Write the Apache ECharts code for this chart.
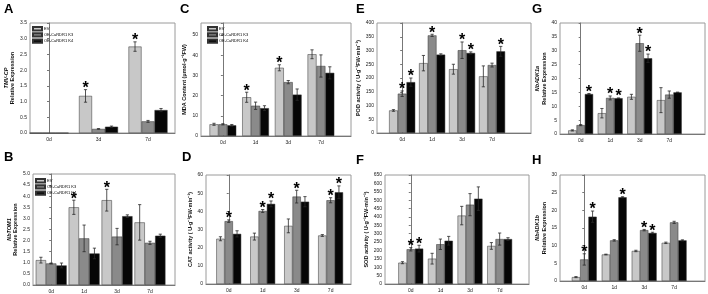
<!DOCTYPE html>
<html>
<head>
<meta charset="utf-8">
<script src="https://cdn.jsdelivr.net/npm/echarts@6/dist/echarts.min.js"></script>
<style>html,body{margin:0;padding:0;background:#fff}#c{width:708px;height:294px}</style>
</head>
<body>
<div id="c"></div>
<script>
// ---------- data ----------
const SERIES_NAMES = ['EV', 'OE-CaRDR1 K3', 'OE-CaRDR1 K4'];
const CATS_A = ['0d', '3d', '7d'];
const CATS = ['0d', '1d', '3d', '7d'];

// rows: EV, K3, K4
const A_mean = [[0, 1.18, 2.75], [0, 0.13, 0.37], [0, 0.20, 0.73]];
const A_sd   = [[0, 0.20, 0.15], [0, 0.01, 0.03], [0, 0.02, 0.05]];
const A_sig  = [[0, 1, 1], [0, 0, 0], [0, 0, 0]];

const B_mean = [[1.12, 3.50, 3.82, 2.82], [0.97, 2.10, 2.18, 1.90], [0.88, 1.42, 3.10, 2.22]];
const B_sd   = [[0.13, 0.32, 0.49, 0.80], [0.02, 0.60, 0.37, 0.07], [0.11, 0.24, 0.06, 0.07]];
const B_sig  = [[0, 1, 1, 0], [0, 0, 0, 0], [0, 0, 0, 0]];

const C_mean = [[5.8, 19.2, 33.8, 40.5], [5.8, 15.0, 26.7, 34.7], [5.3, 13.8, 20.5, 31.3]];
const C_sd   = [[0.5, 2.5, 1.5, 2.2], [0.3, 1.8, 0.8, 5.5], [0.4, 1.2, 2.8, 3.0]];
const C_sig  = [[0, 1, 1, 0], [0, 0, 0, 0], [0, 0, 0, 0]];

const D_mean = [[24.9, 26.1, 32.0, 26.7], [34.6, 40.2, 48.1, 46.1], [27.6, 44.1, 45.3, 50.5]];
const D_sd   = [[1.1, 1.9, 3.8, 0.5], [0.7, 0.8, 3.5, 1.4], [1.7, 1.6, 2.8, 3.5]];
const D_sig  = [[0, 0, 0, 0], [1, 1, 1, 1], [0, 1, 0, 1]];

const E_mean = [[82, 254, 232, 206], [143, 355, 301, 247], [185, 285, 291, 297]];
const E_sd   = [[3, 28, 18, 38], [10, 4, 30, 7], [15, 3, 4, 18]];
const E_sig  = [[0, 0, 0, 0], [1, 1, 1, 0], [1, 0, 1, 1]];

const F_mean = [[127, 151, 408, 227], [207, 237, 473, 268], [211, 258, 509, 268]];
const F_sd   = [[6, 32, 55, 20], [10, 31, 66, 36], [20, 26, 70, 8]];
const F_sig  = [[0, 0, 0, 0], [1, 0, 0, 0], [1, 0, 0, 0]];

const G_mean = [[1.3, 7.5, 13.4, 12.2], [3.2, 13.0, 32.7, 14.2], [14.4, 12.9, 27.3, 15.0]];
const G_sd   = [[0.2, 1.7, 0.9, 4.5], [0.2, 0.7, 2.9, 1.3], [0.2, 0.1, 1.5, 0.1]];
const G_sig  = [[0, 0, 0, 0], [0, 1, 1, 0], [1, 1, 1, 0]];

const H_mean = [[1.1, 7.5, 8.5, 10.8], [6.1, 11.5, 14.4, 16.6], [18.2, 23.7, 13.6, 11.5]];
const H_sd   = [[0.15, 0.1, 0.2, 0.2], [1.6, 0.2, 0.2, 0.3], [1.6, 0.15, 0.2, 0.15]];
const H_sig  = [[0, 0, 0, 0], [1, 0, 1, 0], [1, 1, 1, 0]];

// ---------- layout / style ----------
const FONT = 'Liberation Sans, Arial, sans-serif';
const COLORS = ['#c8c8c8', '#8a8a8a', '#060606'];
const UNIT = ' ( U·g\u207B\u00B9FW·min\u207B\u00B9)';

const panels = [
  {L: 'A', cats: CATS_A, mean: A_mean, sd: A_sd, sig: A_sig, name: '{i|TMV-CP}\nRelative Expression', max: 3.5, step: 0.5, dec: 1,
   grid: {left: 30, top: 23, width: 145, height: 110}, xr: [-0.384, 2.545], bw: 13, gap: 10, legend: {left: 32, top: 26}, letter: {left: 4, top: 3}},
  {L: 'B', cats: CATS, mean: B_mean, sd: B_sd, sig: B_sig, name: '{i|NbTOM1}\nRelative Expression', max: 5, step: 0.5, dec: 1,
   grid: {left: 33, top: 174, width: 142, height: 111}, xr: [-0.553, 3.76], bw: 10.3, gap: 10, legend: {left: 35, top: 178}, letter: {left: 4, top: 151}},
  {L: 'C', cats: CATS, mean: C_mean, sd: C_sd, sig: C_sig, name: 'MDA Content (μmol·g\u207B\u00B9FW)', max: 56, step: 10, dec: 0,
   grid: {left: 201, top: 23, width: 150, height: 113}, xr: [-0.67, 3.92], bw: 8.9, gap: 13, legend: {left: 207, top: 26}, letter: {left: 180, top: 3}},
  {L: 'D', cats: CATS, mean: D_mean, sd: D_sd, sig: D_sig, name: 'CAT activity' + UNIT, max: 60, step: 10, dec: 0,
   grid: {left: 206, top: 175, width: 145, height: 109}, xr: [-0.67, 3.6], bw: 8.3, gap: 12, letter: {left: 182, top: 151}},
  {L: 'E', cats: CATS, mean: E_mean, sd: E_sd, sig: E_sig, name: 'POD activity' + UNIT, max: 400, step: 50, dec: 0,
   grid: {left: 377, top: 23, width: 154, height: 110}, xr: [-0.84, 4.3], bw: 8.7, gap: 13, letter: {left: 356, top: 3}},
  {L: 'F', cats: CATS, mean: F_mean, sd: F_sd, sig: F_sig, name: 'SOD activity' + UNIT, max: 650, step: 50, dec: 0,
   grid: {left: 385, top: 175, width: 144, height: 109}, xr: [-0.87, 3.99], bw: 8.3, gap: 14, letter: {left: 356, top: 154}},
  {L: 'G', cats: CATS, mean: G_mean, sd: G_sd, sig: G_sig, name: '{i|NbADK1a}\nRelative Expression', max: 40, step: 5, dec: 0,
   grid: {left: 560, top: 23, width: 145, height: 111}, xr: [-0.7, 4.21], bw: 8.3, gap: 9, letter: {left: 532, top: 3}},
  {L: 'H', cats: CATS, mean: H_mean, sd: H_sd, sig: H_sig, name: '{i|NbADK1b}\nRelative Expression', max: 30, step: 5, dec: 0,
   grid: {left: 560, top: 175, width: 145, height: 106}, xr: [-0.81, 4.03], bw: 8.3, gap: 9, letter: {left: 532, top: 154}}
];

function makeRender(bw) {
  return function (params, api) {
    const j = api.value(0), m = api.value(1), s = api.value(2), k = api.value(3), g = api.value(4);
    const c = api.coord([j, m]);
    const cx = c[0] + (k - 1) * bw;
    const yT = api.coord([j, m + s])[1];
    const yB = api.coord([j, m - s])[1];
    const st = {stroke: '#2a2a2a', lineWidth: 0.8};
    const ch = [];
    if (s > 0) {
      ch.push({type: 'line', shape: {x1: cx, y1: yB, x2: cx, y2: yT}, style: st});
      ch.push({type: 'line', shape: {x1: cx - 1.6, y1: yT, x2: cx + 1.6, y2: yT}, style: st});
      ch.push({type: 'line', shape: {x1: cx - 1.6, y1: yB, x2: cx + 1.6, y2: yB}, style: st});
    }
    if (g) {
      ch.push({type: 'text', style: {text: '*', x: cx, y: yT - 1, align: 'center', verticalAlign: 'middle',
        font: 'bold 16px ' + FONT, fill: '#000'}});
    }
    return {type: 'group', children: ch};
  };
}

const option = {
  backgroundColor: '#fff',
  animation: false,
  title: [], grid: [], xAxis: [], yAxis: [], series: [], legend: []
};

panels.forEach((p, i) => {
  option.title.push({text: p.L, left: p.letter.left, top: p.letter.top, padding: 0,
    textStyle: {fontSize: 13, fontWeight: 'bold', fontFamily: FONT, color: '#000'}});
  option.grid.push(Object.assign({show: true, borderColor: '#9a9a9a', borderWidth: 1, backgroundColor: 'transparent'}, p.grid));
  option.xAxis.push({
    type: 'value', gridIndex: i, min: p.xr[0], max: p.xr[1],
    axisLine: {show: true, lineStyle: {color: '#777', width: 1}},
    axisTick: {show: false},
    splitLine: {show: false},
    axisLabel: {customValues: p.cats.map((c, j) => j), formatter: v => p.cats[Math.round(v)],
      fontSize: 5, color: '#222', fontFamily: FONT, margin: 4}
  });
  option.yAxis.push({
    type: 'value', gridIndex: i, min: 0, max: p.max, interval: p.step,
    name: p.name, nameLocation: 'middle', nameGap: p.gap,
    nameTextStyle: {fontSize: 5.5, fontWeight: 'bold', fontFamily: FONT, color: '#111', lineHeight: 6.5,
      rich: {i: {fontSize: 5.5, fontWeight: 'bold', fontStyle: 'italic', fontFamily: FONT, color: '#111'}}},
    axisLine: {show: true, lineStyle: {color: '#777', width: 1}},
    axisTick: {show: true, length: 2, lineStyle: {color: '#777'}},
    splitLine: {show: false},
    axisLabel: {fontSize: 5, color: '#222', fontFamily: FONT, margin: 3,
      formatter: v => (Math.abs(v / p.step - Math.round(v / p.step)) > 1e-6) ? '' : v.toFixed(p.dec)}
  });
  for (let k = 0; k < 3; k++) {
    option.series.push({
      type: 'bar', name: SERIES_NAMES[k], xAxisIndex: i, yAxisIndex: i,
      data: p.mean[k].map((v, j) => [j, v]),
      barWidth: p.bw, barGap: '0%',
      itemStyle: {color: COLORS[k], borderColor: '#333', borderWidth: 0.5},
      silent: true
    });
  }
  const ed = [];
  for (let k = 0; k < 3; k++) {
    p.mean[k].forEach((v, j) => ed.push([j, v, p.sd[k][j], k, p.sig[k][j]]));
  }
  option.series.push({type: 'custom', name: 'err' + p.L, xAxisIndex: i, yAxisIndex: i, data: ed,
    renderItem: makeRender(p.bw), z: 10, silent: true, clip: false});
  if (p.legend) {
    option.legend.push({data: SERIES_NAMES, orient: 'vertical', left: p.legend.left, top: p.legend.top,
      padding: 0, itemWidth: 9, itemHeight: 3.4, itemGap: 0.8, icon: 'rect', selectedMode: false,
      textStyle: {fontSize: 4, color: '#000', fontFamily: FONT, padding: [0, 0, 0, -3]}});
  }
});

const chart = echarts.init(document.getElementById('c'), null, {renderer: 'canvas'});
chart.setOption(option);
</script>
</body>
</html>
